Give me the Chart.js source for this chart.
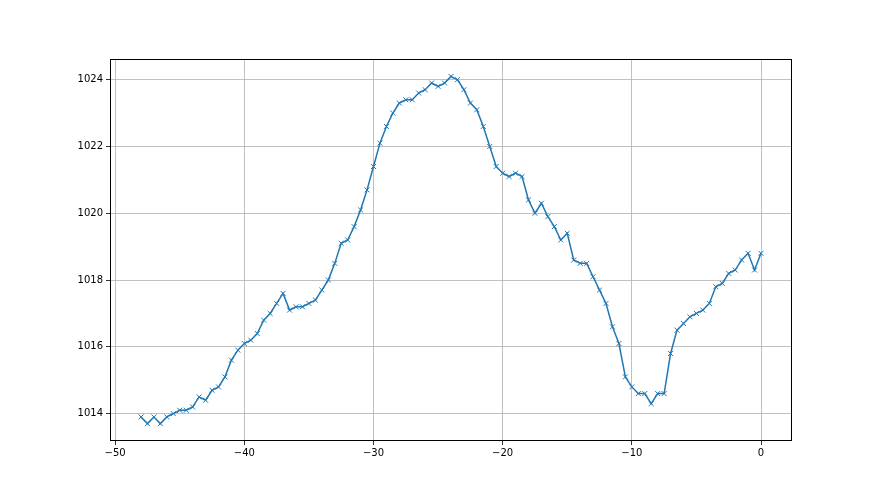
<!DOCTYPE html>
<html>
<head>
<meta charset="utf-8">
<script src="https://cdn.jsdelivr.net/npm/chart.js@4"></script>
<style>
  html, body { margin: 0; padding: 0; background: #fff; }
  #wrap { width: 880px; height: 495px; }
</style>
</head>
<body>
<div id="wrap"><canvas id="pressureChart" width="880" height="495"></canvas></div>
<script>
// hours relative to now, half-hour steps
const hours = [];
for (let h = -48; h <= 0; h += 0.5) hours.push(h);

const pressure = [
  1013.9, 1013.7, 1013.9, 1013.7, 1013.9, 1014.0, 1014.1, 1014.1, 1014.2, 1014.5,
  1014.4, 1014.7, 1014.8, 1015.1, 1015.6, 1015.9, 1016.1, 1016.2, 1016.4, 1016.8,
  1017.0, 1017.3, 1017.6, 1017.1, 1017.2, 1017.2, 1017.3, 1017.4, 1017.7, 1018.0,
  1018.5, 1019.1, 1019.2, 1019.6, 1020.1, 1020.7, 1021.4, 1022.1, 1022.6, 1023.0,
  1023.3, 1023.4, 1023.4, 1023.6, 1023.7, 1023.9, 1023.8, 1023.9, 1024.1, 1024.0,
  1023.7, 1023.3, 1023.1, 1022.6, 1022.0, 1021.4, 1021.2, 1021.1, 1021.2, 1021.1,
  1020.4, 1020.0, 1020.3, 1019.9, 1019.6, 1019.2, 1019.4, 1018.6, 1018.5, 1018.5,
  1018.1, 1017.7, 1017.3, 1016.6, 1016.1, 1015.1, 1014.8, 1014.6, 1014.6, 1014.3,
  1014.6, 1014.6, 1015.8, 1016.5, 1016.7, 1016.9, 1017.0, 1017.1, 1017.3, 1017.8,
  1017.9, 1018.2, 1018.3, 1018.6, 1018.8, 1018.3, 1018.8
];

const xTicks = [-50, -40, -30, -20, -10, 0];
const yTicks = [1014, 1016, 1018, 1020, 1022, 1024];

const points = hours.map((h, i) => ({ x: h, y: pressure[i] }));

// matplotlib-style full box around the axes
const frame = {
  id: 'frame',
  afterDraw(chart) {
    const a = chart.chartArea, ctx = chart.ctx;
    ctx.save();
    ctx.strokeStyle = '#000';
    ctx.lineWidth = 1;
    ctx.strokeRect(a.left + 0.5, a.top + 0.5, a.right - a.left - 1, a.bottom - a.top - 1);
    ctx.restore();
  }
};

const minus = v => String(v).replace('-', '\u2212');

new Chart(document.getElementById('pressureChart'), {
  type: 'line',
  data: {
    datasets: [{
      data: points,
      borderColor: '#1f77b4',
      borderWidth: 1.5,
      pointStyle: 'crossRot',
      pointRadius: 3.5,
      pointBorderColor: '#1f77b4',
      pointBorderWidth: 1,
      pointHoverRadius: 3.5,
      fill: false,
      tension: 0
    }]
  },
  options: {
    responsive: false,
    animation: false,
    plugins: { legend: { display: false }, tooltip: { enabled: false } },
    layout: { padding: { left: 0, right: 88, top: 59, bottom: 0 } },
    scales: {
      x: {
        type: 'linear',
        min: -50.4,
        max: 2.4,
        afterBuildTicks: s => { s.ticks = xTicks.map(v => ({ value: v })); },
        afterFit: s => { s.height = 54; },
        border: { display: false },
        grid: { color: '#b0b0b0', lineWidth: 0.8, tickColor: '#000', tickLength: 4 },
        ticks: {
          color: '#000',
          font: { family: 'DejaVu Sans', size: 10 },
          padding: 2,
          maxRotation: 0,
          callback: v => minus(v)
        }
      },
      y: {
        min: 1013.18,
        max: 1024.62,
        afterBuildTicks: s => { s.ticks = yTicks.map(v => ({ value: v })); },
        afterFit: s => { s.width = 110; },
        border: { display: false },
        grid: { color: '#b0b0b0', lineWidth: 0.8, tickColor: '#000', tickLength: 4 },
        ticks: {
          color: '#000',
          font: { family: 'DejaVu Sans', size: 10 },
          padding: 3,
          callback: v => String(v)
        }
      }
    }
  },
  plugins: [frame]
});
</script>
</body>
</html>
